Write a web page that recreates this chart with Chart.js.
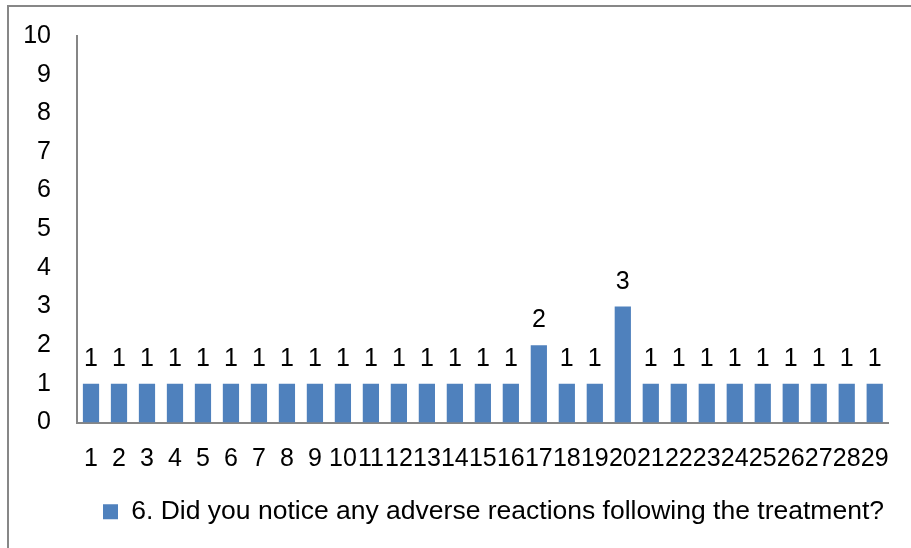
<!DOCTYPE html>
<html>
<head>
<meta charset="utf-8">
<script src="https://cdn.jsdelivr.net/npm/chart.js@4"></script>
<style>
  html, body { margin: 0; padding: 0; background: #fff; overflow: hidden; }
  #wrap { position: relative; width: 911px; height: 548px; }
  #frame {
    position: absolute; left: 7px; top: 5px; width: 920px; height: 560px;
    border-top: 2px solid #878787; border-left: 2px solid #878787;
  }
  #c { position: absolute; left: 0; top: 0; }
</style>
</head>
<body>
<div id="wrap">
  <div id="frame"></div>
  <canvas id="c" width="911" height="548"></canvas>
</div>
<script>
const categories = ["1","2","3","4","5","6","7","8","9","10","11","12","13","14","15","16","17","18","19","20","21","22","23","24","25","26","27","28","29"];
const seriesName = "6. Did you notice any adverse reactions following the treatment?";
const seriesValues = [1,1,1,1,1,1,1,1,1,1,1,1,1,1,1,1,2,1,1,3,1,1,1,1,1,1,1,1,1];
const yTicks = [0,1,2,3,4,5,6,7,8,9,10];

const FONT = "'Liberation Sans', Arial, sans-serif";
const FSIZE = 25;
const BLUE = "#4F81BD";
const AXIS = "#868686";

// value labels above each bar
const barLabels = {
  id: "barLabels",
  afterDatasetsDraw(chart) {
    const ctx = chart.ctx;
    const meta = chart.getDatasetMeta(0);
    ctx.save();
    ctx.font = FSIZE + "px " + FONT;
    ctx.fillStyle = "#000";
    ctx.textAlign = "center";
    ctx.textBaseline = "alphabetic";
    meta.data.forEach((bar, i) => {
      ctx.fillText(String(seriesValues[i]), bar.x, bar.y - 18);
    });
    ctx.restore();
  }
};

new Chart(document.getElementById("c"), {
  type: "bar",
  data: {
    labels: categories,
    datasets: [{
      label: seriesName,
      data: seriesValues,
      backgroundColor: BLUE,
      borderWidth: 0,
      categoryPercentage: 1,
      barPercentage: 0.58
    }]
  },
  options: {
    responsive: false,
    animation: false,
    layout: { padding: { left: 0, right: 22, top: 36, bottom: 13 } },
    scales: {
      x: {
        grid: { display: false, drawTicks: false },
        border: { display: true, color: AXIS, width: 2 },
        ticks: {
          autoSkip: false, maxRotation: 0, color: "#000", padding: 22,
          font: { family: FONT, size: FSIZE }
        },
        afterFit(scale) { scale.height = 50; }
      },
      y: {
        min: 0, max: 10,
        grid: { display: false, drawTicks: false },
        border: { display: true, color: AXIS, width: 2 },
        afterBuildTicks(scale) { scale.ticks = yTicks.map(v => ({ value: v })); },
        ticks: {
          color: "#000", padding: 26,
          font: { family: FONT, size: FSIZE }
        },
        afterFit(scale) {
          scale.width = 77;
          scale.paddingTop = 0;
          scale.paddingBottom = 0;
        }
      }
    },
    plugins: {
      tooltip: { enabled: false },
      legend: {
        position: "bottom",
        align: "start",
        fullSize: false,
        labels: {
          boxWidth: 15, boxHeight: 15, padding: 26, color: "#000",
          font: { family: FONT, size: 26.5 }
        }
      }
    }
  },
  plugins: [barLabels]
});
</script>
</body>
</html>
